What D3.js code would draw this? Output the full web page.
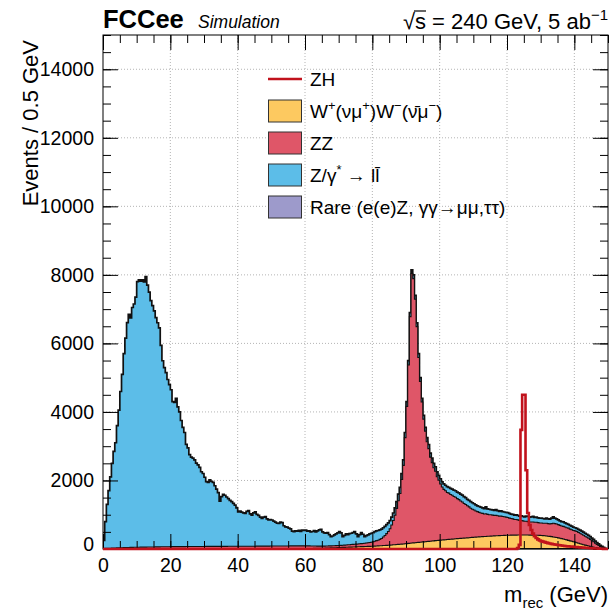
<!DOCTYPE html>
<html>
<head>
<meta charset="utf-8">
<script src="https://cdn.jsdelivr.net/npm/d3@7"></script>
<style>
  body { margin: 0; background: #fff; }
  svg { display: block; }
  text { font-family: "Liberation Sans", Arial, Helvetica, sans-serif; fill: #000; }
</style>
</head>
<body>
<script>
// recoil mass histogram, 0.5 GeV bins from 0 to 150 GeV (300 bins)
const binWidth = 0.5;
const xTicks = [0, 20, 40, 60, 80, 100, 120, 140];
const yTicks = [0, 2000, 4000, 6000, 8000, 10000, 12000, 14000];

// Rare (e(e)Z, yy->mumu,tautau)  - tiny
const rare = [
 10,10,10,10,10,10,10,10,10,10,10,10,10,10,10,10,10,10,10,10,
 10,10,10,10,10,10,10,10,10,10,10,10,10,10,10,10,10,10,10,10,
 10,10,10,10,10,10,10,10,10,10,10,10,10,10,10,10,10,10,10,10,
 10,10,10,10,10,10,10,10,10,10,10,10,10,10,10,10,10,10,10,10,
 10,10,10,10,10,10,10,10,10,10,10,10,10,10,10,10,10,10,10,10,
 10,10,10,10,10,10,10,10,10,10,10,10,10,10,10,10,10,10,10,10,
 10,10,10,10,10,10,10,10,10,10,10,10,10,10,10,10,10,10,10,10,
 10,10,10,10,10,10,10,10,10,10,10,10,10,10,10,10,10,10,10,10,
 10,10,10,10,10,10,10,10,10,10,10,10,10,10,10,10,10,10,10,10,
 10,10,10,10,10,10,10,10,10,10,10,10,10,10,10,10,10,10,10,10,
 10,10,10,10,10,10,10,10,10,10,10,10,10,10,10,10,10,10,10,10,
 10,10,10,10,10,10,10,10,10,10,10,10,10,10,10,10,10,10,10,10,
 10,10,10,10,10,10,10,10,10,10,10,10,10,10,10,10,10,10,10,10,
 10,10,10,10,10,10,10,10,10,10,10,10,10,10,10,10,10,10,10,10,
 10,10,10,10,10,10,10,10,10,10,8,8,6,6,4,4,3,2,1,1
];

// W+(nu mu+) W-(nubar mu-)
const ww = [
 0,0,0,0,0,0,0,0,0,0,0,0,0,0,0,0,0,0,0,0,
 0,0,0,0,0,0,0,0,0,0,0,0,0,0,0,0,0,0,0,0,
 0,0,0,0,0,0,0,0,0,0,0,0,0,0,0,0,0,0,0,0,
 0,0,0,0,0,0,0,0,0,0,0,0,0,0,0,0,0,0,0,0,
 0,0,0,0,0,0,0,0,0,0,0,0,0,0,0,0,0,0,0,0,
 0,0,0,0,0,0,0,0,0,0,0,0,0,0,0,0,0,0,0,0,
 2,3,4,5,6,7,8,9,10,11,12,14,16,18,20,22,24,26,28,30,
 32,34,36,38,40,42,44,46,48,50,52,54,56,58,60,62,64,66,68,70,
 72,75,78,81,84,87,90,93,96,100,104,108,112,116,120,124,128,133,138,143,
 148,153,158,163,168,173,178,183,188,193,198,203,208,213,218,223,228,233,238,243,
 248,252,256,262,266,270,274,278,282,288,292,296,300,304,308,312,316,320,324,328,
 332,336,340,343,346,350,353,356,360,363,366,369,372,375,378,381,384,386,388,390,
 392,393,394,395,396,396,397,397,398,398,398,397,397,396,395,394,393,392,390,388,
 385,380,375,370,364,357,350,342,333,324,314,303,292,280,268,255,242,228,214,200,
 186,172,158,144,130,116,102,90,78,66,55,45,36,28,21,15,10,6,3,1
];

// ZZ
const zz = [
 5,8,10,12,14,16,18,20,22,24,26,28,30,32,34,35,36,38,40,40,
 42,42,44,44,46,46,48,48,50,50,50,52,52,52,54,54,54,56,56,56,
 58,58,58,58,60,60,60,60,60,62,62,62,62,62,62,64,64,64,64,64,
 64,66,66,66,66,66,66,68,68,68,68,68,68,68,70,70,70,70,70,70,
 70,70,70,72,72,72,72,72,72,72,72,74,74,74,74,74,74,74,74,76,
 76,76,76,76,76,78,78,78,78,78,78,80,80,80,80,80,82,82,82,82,
 80,78,76,74,72,70,68,66,64,62,62,60,60,60,60,60,60,60,60,60,
 60,62,64,66,68,70,72,74,76,78,80,83,86,89,92,96,100,105,110,115,
 128,140,157,164,186,208,250,292,344,400,476,582,708,864,1050,1276,1482,1887,2292,3097,
 4002,5207,6612,7867,7712,7107,6302,5397,4692,4087,3582,3227,2912,2707,2452,2287,2132,2027,1862,1757,
 1642,1548,1474,1428,1374,1350,1306,1282,1238,1212,1168,1134,1090,1056,1012,978,934,900,856,822,
 798,764,740,717,694,680,657,664,640,627,624,611,598,595,582,569,566,554,542,530,
 518,497,486,475,454,454,443,423,422,412,402,403,393,384,385,386,377,378,370,362,
 365,360,365,370,366,363,380,398,397,396,386,377,368,370,362,355,358,342,336,330,
 334,328,317,306,290,274,258,245,227,204,182,157,128,101,80,56,37,22,8,3
];

// Z/gamma* -> ll
const zg = [
 235,780,1280,1680,2080,2470,2820,3070,3570,4020,4560,5060,5660,6110,6560,6800,6700,7000,7100,7300,
 7750,7800,7760,7800,7740,7890,7640,7440,7190,7040,6890,6690,6540,6390,5880,5430,5230,5080,4880,4730,
 4580,4230,4210,4330,4080,3930,3680,3480,3330,2980,2880,2680,2610,2580,2530,2430,2380,2310,2180,2130,
 2020,1890,1870,1940,1900,1870,1770,1670,1570,1320,1450,1520,1490,1440,1390,1340,1300,1250,1200,1120,
 1005,1025,995,975,955,1015,1035,945,905,975,1005,925,895,845,810,845,860,795,765,775,
 760,730,700,670,660,700,680,590,560,550,520,500,430,415,440,430,450,420,460,450,
 463,429,440,411,422,453,414,445,476,492,416,386,374,392,330,268,286,314,342,370,
 403,364,250,286,322,298,324,330,346,367,298,213,268,323,268,192,216,229,252,265,
 270,280,285,285,280,275,270,265,260,250,240,230,220,210,200,190,180,170,160,150,
 140,130,120,110,110,110,110,110,110,110,110,110,120,120,120,130,130,130,140,140,
 150,150,160,160,170,170,180,180,190,190,190,200,200,200,200,200,190,190,190,190,
 180,180,170,170,170,160,160,200,160,160,150,150,150,170,150,140,150,140,140,140,
 140,140,130,130,130,140,130,130,140,130,130,150,150,140,150,160,140,150,140,140,
 140,140,130,150,140,140,160,190,160,150,140,130,130,130,120,120,110,110,110,100,
 90,90,90,90,90,90,90,85,85,80,75,70,60,55,45,35,25,15,8,3
];

// ZH signal (line, not stacked)
const zh = [
 0,0,0,0,0,0,0,0,0,0,0,0,0,0,0,0,0,0,0,0,
 0,0,0,0,0,0,0,0,0,0,0,0,0,0,0,0,0,0,0,0,
 0,0,0,0,0,0,0,0,0,0,0,0,0,0,0,0,0,0,0,0,
 0,0,0,0,0,0,0,0,0,0,0,0,0,0,0,0,0,0,0,0,
 0,0,0,0,0,0,0,0,0,0,0,0,0,0,0,0,0,0,0,0,
 0,0,0,0,0,0,0,0,0,0,0,0,0,0,0,0,0,0,0,0,
 0,0,0,0,0,0,0,0,0,0,0,0,0,0,0,0,0,0,0,0,
 0,0,0,0,0,0,0,0,0,0,0,0,0,0,0,0,0,0,0,0,
 0,0,0,0,0,0,0,0,0,0,0,0,0,0,0,0,0,0,0,0,
 0,0,0,0,0,0,0,0,0,0,0,0,0,0,0,0,0,0,0,0,
 0,0,0,0,0,0,0,0,0,0,0,0,0,0,0,0,0,0,0,0,
 0,0,0,0,0,0,0,0,0,0,0,0,0,0,0,0,0,0,0,0,
 0,0,0,0,0,0,30,120,3475,4500,4500,2300,1050,700,555,450,370,320,280,250,
 230,215,200,185,172,160,150,140,130,122,115,108,100,94,88,82,77,72,68,64,
 60,56,52,48,44,40,36,32,28,25,22,19,16,13,10,8,6,4,2,1
];

const stackKeys = ["rare", "ww", "zz", "zg"];
const colors = { rare: "#9d9acb", ww: "#fdc960", zz: "#df5668", zg: "#5cbde8", zh: "#c1121c" };

// --- layout
const width = 615, height = 611;
const x = d3.scaleLinear().domain([0, 150]).range([103, 608]);
const y = d3.scaleLinear().domain([0, 15000]).range([549, 35]);

const svg = d3.select("body").append("svg").attr("width", width).attr("height", height);

svg.append("clipPath").attr("id", "plotclip").append("rect")
  .attr("x", x(0)).attr("y", y(15000)).attr("width", x(150) - x(0)).attr("height", y(0) - y(15000) + 2);

// grid (dotted)
const grid = svg.append("g");
grid.selectAll(".gx").data(xTicks.filter(d => d > 0)).join("line")
  .attr("x1", d => x(d)).attr("x2", d => x(d)).attr("y1", y(0)).attr("y2", y(15000))
  .attr("stroke", "#b4b4b4").attr("stroke-dasharray", "1,2");
grid.selectAll(".gy").data(yTicks.filter(d => d > 0)).join("line")
  .attr("x1", x(0)).attr("x2", x(150)).attr("y1", d => y(d)).attr("y2", d => y(d))
  .attr("stroke", "#b4b4b4").attr("stroke-dasharray", "1,2");

// stacked histogram
const rows = rare.map((v, i) => ({ lo: i * binWidth, rare: rare[i], ww: ww[i], zz: zz[i], zg: zg[i] }));
const layers = d3.stack().keys(stackKeys)(rows);

function stepPoints(vals) {
  const pts = [{ x: 0, v: 0 }];
  vals.forEach((v, i) => pts.push({ x: i * binWidth, v: v }));
  pts.push({ x: vals.length * binWidth, v: vals[vals.length - 1] });
  pts.push({ x: vals.length * binWidth, v: 0 });
  return pts;
}
const area = d3.area().curve(d3.curveStepAfter).x(d => x(d.x)).y0(y(0)).y1(d => y(d.v));
const line = d3.line().curve(d3.curveStepAfter).x(d => x(d.x)).y(d => y(d.v));

const hist = svg.append("g").attr("clip-path", "url(#plotclip)");
// draw from the top of the stack down, each filled to zero (THStack style)
layers.slice().reverse().forEach(layer => {
  const pts = stepPoints(layer.map(d => d[1]));
  hist.append("path").attr("d", area(pts)).attr("fill", colors[layer.key]);
  hist.append("path").attr("d", line(pts)).attr("fill", "none")
    .attr("stroke", "#111").attr("stroke-width", layer.key === "zg" ? 1.7 : 1.1);
});

// axes with inward ticks on all sides
const xMinor = d3.range(0, 151, 5);
const yMinor = d3.range(0, 15001, 500);
const axes = svg.append("g");
function addAxis(gen, tr) {
  const g = axes.append("g").attr("transform", tr).call(gen);
  g.select(".domain").remove();
  g.selectAll("line").attr("stroke", "#000");
  return g;
}
addAxis(d3.axisBottom(x).tickValues(xMinor).tickSizeInner(-8).tickFormat(""), `translate(0,${y(0)})`);
const xb = addAxis(d3.axisBottom(x).tickValues(xTicks).tickSizeInner(-15).tickPadding(9).tickFormat(d3.format("d")), `translate(0,${y(0)})`);
addAxis(d3.axisTop(x).tickValues(xMinor).tickSizeInner(-8).tickFormat(""), `translate(0,${y(15000)})`);
addAxis(d3.axisTop(x).tickValues(xTicks).tickSizeInner(-15).tickFormat(""), `translate(0,${y(15000)})`);
addAxis(d3.axisLeft(y).tickValues(yMinor).tickSizeInner(-8).tickFormat(""), `translate(${x(0)},0)`);
const yl = addAxis(d3.axisLeft(y).tickValues(yTicks).tickSizeInner(-15).tickPadding(9).tickFormat(d3.format("d")), `translate(${x(0)},0)`);
addAxis(d3.axisRight(y).tickValues(yMinor).tickSizeInner(-8).tickFormat(""), `translate(${x(150)},0)`);
addAxis(d3.axisRight(y).tickValues(yTicks).tickSizeInner(-15).tickFormat(""), `translate(${x(150)},0)`);
xb.selectAll("text").attr("font-size", 19.5).attr("font-family", null);
yl.selectAll("text").attr("font-size", 19.5).attr("font-family", null);
axes.attr("font-family", null);
yl.selectAll(".tick").filter(d => d === 0).select("text").attr("dy", "0.1em");

// frame
svg.append("rect").attr("x", x(0)).attr("y", y(15000))
  .attr("width", x(150) - x(0)).attr("height", y(0) - y(15000))
  .attr("fill", "none").attr("stroke", "#000").attr("stroke-width", 1);

// ZH line on top (its zero level stays visible along the axis)
svg.append("path").attr("clip-path", "url(#plotclip)").attr("d", line(stepPoints(zh))).attr("fill", "none")
  .attr("stroke", colors.zh).attr("stroke-width", 2.6);

// rich text helper: parts of {t, sup, sub}
function rich(sel, parts, size) {
  let shift = 0;
  parts.forEach(p => {
    const want = p.sup ? -0.4 * size : p.sub ? 0.28 * size : 0;
    sel.append("tspan").attr("dy", want - shift)
      .attr("font-size", (p.sup || p.sub) ? size * 0.68 : size).text(p.t);
    shift = want;
  });
  return sel;
}

// axis titles
rich(svg.append("text").attr("x", x(150)).attr("y", 602).attr("text-anchor", "end"),
  [{ t: "m" }, { t: "rec", sub: true }, { t: " (GeV)" }], 22);
svg.append("text").attr("transform", `translate(38,40) rotate(-90)`).attr("text-anchor", "end")
  .attr("font-size", 22).text("Events / 0.5 GeV");

// header
svg.append("text").attr("x", 103).attr("y", 28).attr("font-size", 25.5).attr("font-weight", "bold").text("FCCee");
svg.append("text").attr("x", 198).attr("y", 28).attr("font-size", 17.5).attr("font-style", "italic").text("Simulation");
const hdr = rich(svg.append("text").attr("x", 608).attr("y", 29).attr("text-anchor", "end"),
  [{ t: "\u221As = 240 GeV, 5 ab" }, { t: "\u22121", sup: true }], 22);
// overline of the square root
const sNode = hdr.select("tspan").node();
const rRoot = sNode.getExtentOfChar(0), rS = sNode.getExtentOfChar(1);
svg.append("line").attr("x1", rRoot.x + rRoot.width - 1).attr("x2", rS.x + rS.width)
  .attr("y1", rRoot.y + 2).attr("y2", rRoot.y + 2).attr("stroke", "#000").attr("stroke-width", 1.2);

// legend
const legendItems = [
  { key: "zh", line: true, parts: [{ t: "ZH" }] },
  { key: "ww", parts: [{ t: "W" }, { t: "+", sup: true }, { t: "(\u03BD\u03BC" }, { t: "+", sup: true }, { t: ")W" }, { t: "\u2212", sup: true }, { t: "(\u03BD\u0304\u03BC" }, { t: "\u2212", sup: true }, { t: ")" }] },
  { key: "zz", parts: [{ t: "ZZ" }] },
  { key: "zg", parts: [{ t: "Z/\u03B3" }, { t: "*", sup: true }, { t: "  \u2192 l" }, { t: "l\u0304" }] },
  { key: "rare", parts: [{ t: "Rare (e(e)Z,  \u03B3\u03B3\u2192\u03BC\u03BC,\u03C4\u03C4)" }] }
];
const legY = [79, 111, 143, 175, 207];
const leg = svg.append("g");
legendItems.forEach((it, i) => {
  const cy = legY[i];
  if (it.line) {
    leg.append("line").attr("x1", 268).attr("x2", 302).attr("y1", cy).attr("y2", cy)
      .attr("stroke", colors.zh).attr("stroke-width", 2.6);
  } else {
    leg.append("rect").attr("x", 268.5).attr("y", cy - 11).attr("width", 33).attr("height", 22)
      .attr("fill", colors[it.key]).attr("stroke", "#333").attr("stroke-width", 1);
  }
  rich(leg.append("text").attr("x", 310).attr("y", cy + 7), it.parts, 19);
});
</script>
</body>
</html>
